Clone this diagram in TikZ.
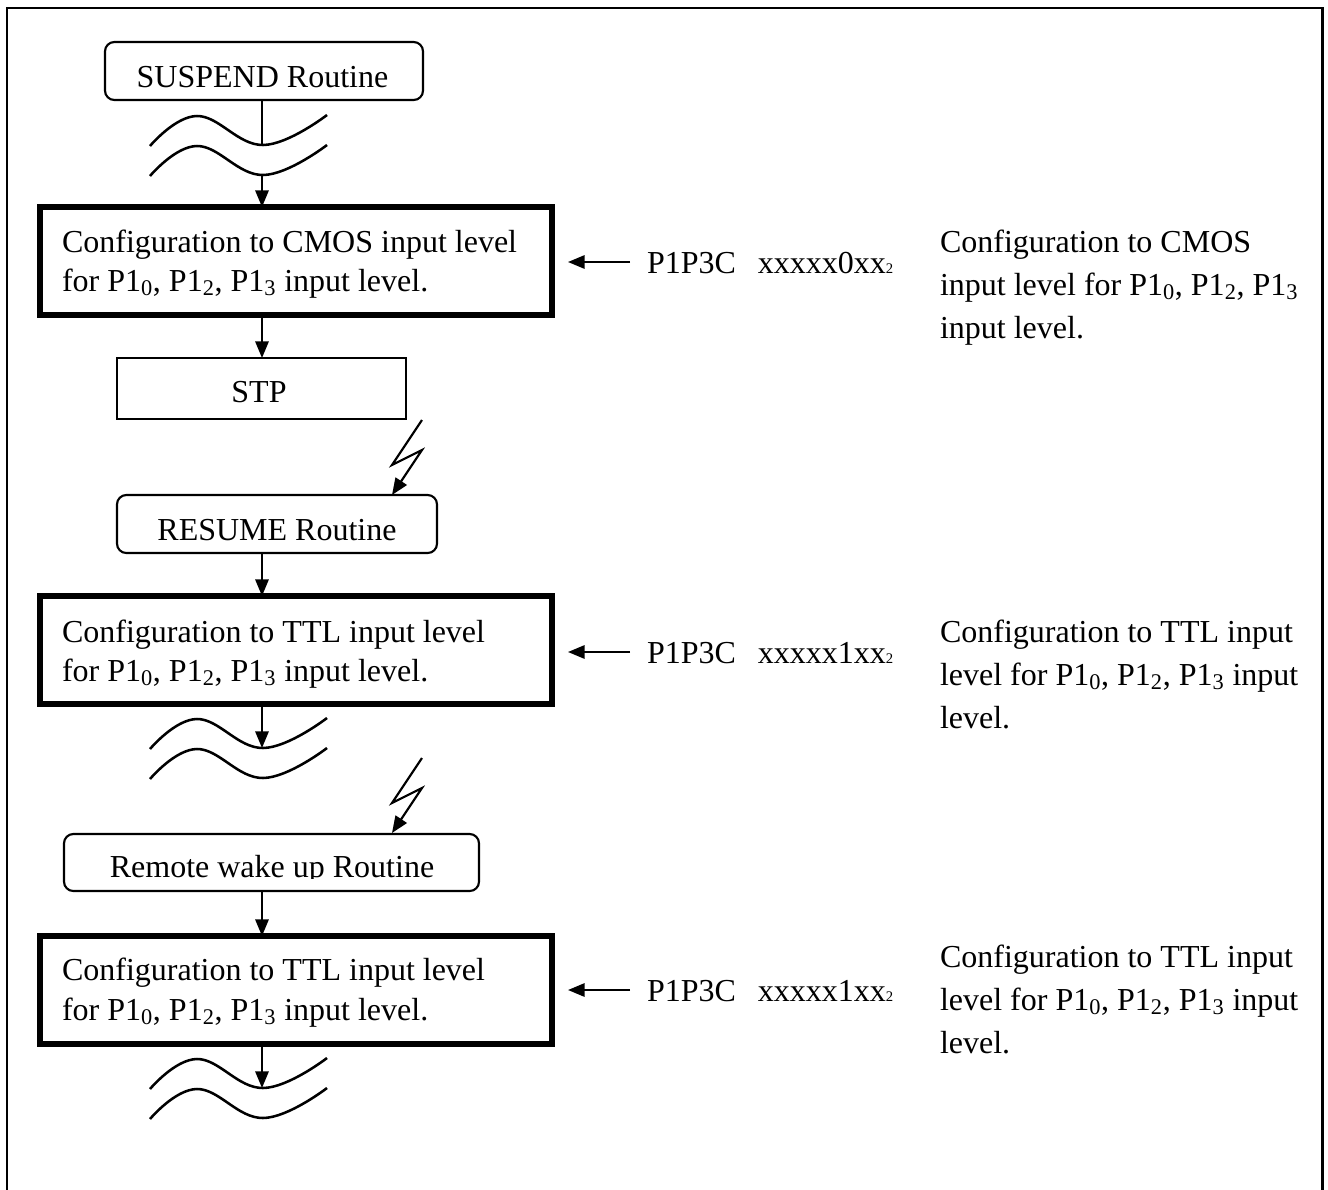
\documentclass[tikz,border=0pt]{standalone}
\usepackage{fontspec}
\setmainfont{Liberation Serif}
\usetikzlibrary{arrows.meta}
\newcommand\sbs[1]{\textsubscript{#1}}
\newcommand\tinysub[1]{{\fontsize{11}{11}\selectfont #1}}
\newcommand\mywave[1]{\draw[wave] plot[smooth,tension=0.7] coordinates {(150,#1+1) (197,#1-29) (263,#1) (327,#1-30)};}
\begin{document}
\begin{tikzpicture}[x=0.75pt,y=-0.75pt,
  every node/.style={inner sep=0pt, outer sep=0pt},
  txt/.style={font=\fontsize{24}{29}\selectfont},
  rbox/.style={draw, line width=1.6pt, rounded corners=7pt},
  sbox/.style={draw, line width=1.6pt},
  tbox/.style={draw, line width=4.5pt, minimum width=384pt, minimum height=81pt},
  conn/.style={line width=1.6pt},
  arr/.style={line width=1.6pt, -{Triangle[length=12.5pt,width=10pt]}},
  wave/.style={line width=1.9pt},
]
\useasboundingbox (0,0) rectangle (1328,1189);
\draw[line width=1.9pt] (7,8) rectangle (1322.5,1240);

\coordinate (col) at (262,0);

% boxes
\node[rbox, minimum width=238.5pt, minimum height=43.5pt] (susp) at (264,71) {};
\node[tbox] (cmos) at (296,261) {};
\node[sbox, minimum width=216.75pt, minimum height=45.75pt] (stp) at (261.5,388.5) {};
\node[rbox, minimum width=240pt, minimum height=43.5pt] (res) at (277,524) {};
\node[tbox] (ttla) at (296,650) {};
\node[rbox, minimum width=311.25pt, minimum height=42.75pt] (rem) at (271.5,862.5) {};
\node[tbox] (ttlb) at (296,990) {};

% box texts
\node[txt, anchor=base] (tsusp) at (262.5,87) {SUSPEND Routine};
\node[txt, anchor=base] (tstp) at (259,402) {STP};
\node[txt, anchor=base] (tres) at (277,540) {RESUME Routine};
\begin{scope}
\clip (60,830) rectangle (485,878.5);
\node[txt, anchor=base] (trem) at (272,877) {Remote wake up Routine};
\end{scope}

\node[txt, anchor=base west] (c1a) at (62,252) {Configuration to CMOS input level};
\node[txt, anchor=base west] (c1b) at (62,291) {for P1\sbs{0}, P1\sbs{2}, P1\sbs{3} input level.};
\node[txt, anchor=base west] (c2a) at (62,642) {Configuration to TTL input level};
\node[txt, anchor=base west] (c2b) at (62,681) {for P1\sbs{0}, P1\sbs{2}, P1\sbs{3} input level.};
\node[txt, anchor=base west] (c3a) at (62,980) {Configuration to TTL input level};
\node[txt, anchor=base west] (c3b) at (62,1020) {for P1\sbs{0}, P1\sbs{2}, P1\sbs{3} input level.};

% waves
\mywave{145}
\mywave{175}
\mywave{748}
\mywave{778}
\mywave{1088}
\mywave{1118}
\coordinate (w1) at (262,145);
\coordinate (w2) at (262,175);
\coordinate (w3) at (262,748);
\coordinate (w4) at (262,1088);

% vertical connectors
\draw[conn] (susp.south -| col) -- (w1);
\draw[arr] (w2) -- (cmos.north -| col);
\draw[arr] (cmos.south -| col) -- (stp.north -| col);
\draw[arr] (res.south -| col) -- (ttla.north -| col);
\draw[arr] (ttla.south -| col) -- (w3);
\draw[arr] (rem.south -| col) -- (ttlb.north -| col);
\draw[arr] (ttlb.south -| col) -- (w4);

% lightning arrows
\coordinate (z1) at (422,420);
\coordinate (z1e) at (392,495);
\draw[arr, line join=miter] (z1) -- ++(-30,45) -- ++(30,-15) -- (z1e);
\coordinate (z2) at (422,758);
\coordinate (z2e) at (392,833);
\draw[arr, line join=miter] (z2) -- ++(-30,45) -- ++(30,-15) -- (z2e);

% register settings
\node[txt, anchor=base west] (p1) at (647,273) {P1P3C\hspace{16.5pt}xxxxx0xx\tinysub{2}};
\node[txt, anchor=base west] (p2) at (647,663) {P1P3C\hspace{16.5pt}xxxxx1xx\tinysub{2}};
\node[txt, anchor=base west] (p3) at (647,1001) {P1P3C\hspace{16.5pt}xxxxx1xx\tinysub{2}};
\coordinate (a1) at (630,262);
\coordinate (a1e) at (568,262);
\coordinate (a2) at (630,652);
\coordinate (a2e) at (568,652);
\coordinate (a3) at (630,990);
\coordinate (a3e) at (568,990);
\draw[arr] (a1) -- (a1e);
\draw[arr] (a2) -- (a2e);
\draw[arr] (a3) -- (a3e);

% descriptions
\node[txt, anchor=base west] (d1a) at (940,252) {Configuration to CMOS};
\node[txt, anchor=base west] (d1b) at (940,295) {input level for P1\sbs{0}, P1\sbs{2}, P1\sbs{3}};
\node[txt, anchor=base west] (d1c) at (940,338) {input level.};
\node[txt, anchor=base west] (d2a) at (940,642) {Configuration to TTL input};
\node[txt, anchor=base west] (d2b) at (940,685) {level for P1\sbs{0}, P1\sbs{2}, P1\sbs{3} input};
\node[txt, anchor=base west] (d2c) at (940,728) {level.};
\node[txt, anchor=base west] (d3a) at (940,967) {Configuration to TTL input};
\node[txt, anchor=base west] (d3b) at (940,1010) {level for P1\sbs{0}, P1\sbs{2}, P1\sbs{3} input};
\node[txt, anchor=base west] (d3c) at (940,1053) {level.};
\end{tikzpicture}
\end{document}
